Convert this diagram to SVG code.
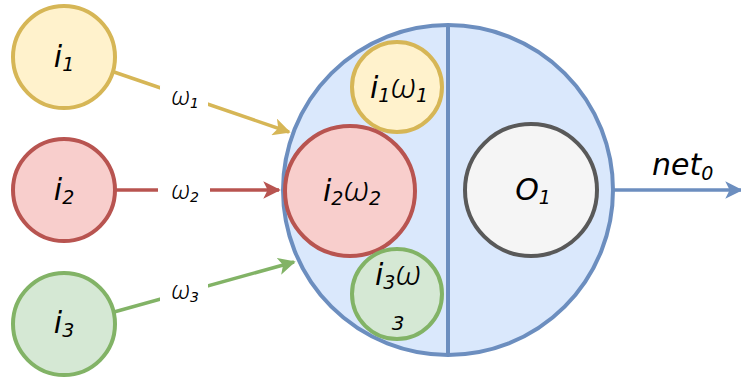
<svg xmlns="http://www.w3.org/2000/svg" width="741" height="378" viewBox="0 0 741 378">
<defs>
<style>
text{font-family:"DejaVu Sans","Liberation Sans",sans-serif;font-style:italic;fill:#000;}
.big{font-size:30px;}
.sm{font-size:25px;}
.om{font-family:"Noto Sans","DejaVu Sans",sans-serif;font-weight:300;}
.node{stroke-width:4;}
.y{fill:#fff2cc;stroke:#d6b656;}
.r{fill:#f8cecc;stroke:#b85450;}
.g{fill:#d5e8d4;stroke:#82b366;}
.b{fill:#dae8fc;stroke:#6c8ebf;}
.gr{fill:#f5f5f5;stroke:#595959;}
.edge{fill:none;stroke-width:3.5;}
</style>
<marker id="ay" viewBox="0 0 10 10" refX="9" refY="5" markerWidth="5" markerHeight="5" orient="auto" markerUnits="strokeWidth"><path d="M0,0 L10,5 L0,10 L2.5,5 Z" fill="#d6b656"/></marker>
<marker id="ar" viewBox="0 0 10 10" refX="9" refY="5" markerWidth="5" markerHeight="5" orient="auto" markerUnits="strokeWidth"><path d="M0,0 L10,5 L0,10 L2.5,5 Z" fill="#b85450"/></marker>
<marker id="ag" viewBox="0 0 10 10" refX="9" refY="5" markerWidth="5" markerHeight="5" orient="auto" markerUnits="strokeWidth"><path d="M0,0 L10,5 L0,10 L2.5,5 Z" fill="#82b366"/></marker>
<marker id="ab" viewBox="0 0 10 10" refX="9" refY="5" markerWidth="5" markerHeight="5" orient="auto" markerUnits="strokeWidth"><path d="M0,0 L10,5 L0,10 L2.5,5 Z" fill="#6c8ebf"/></marker>
</defs>
<rect width="741" height="378" fill="#fff"/>

<g id="connectors">
<line class="edge" x1="114" y1="72" x2="289" y2="132" stroke="#d6b656" marker-end="url(#ay)"/>
<line class="edge" x1="115" y1="190" x2="279" y2="190" stroke="#b85450" marker-end="url(#ar)"/>
<line class="edge" x1="114" y1="312" x2="294" y2="262" stroke="#82b366" marker-end="url(#ag)"/>
<line class="edge" x1="614" y1="190" x2="741" y2="190" stroke="#6c8ebf" marker-end="url(#ab)"/>
<rect x="160" y="86" width="48" height="26" fill="#fff"/>
<text class="sm" x="185" y="105" text-anchor="middle"><tspan class="om">ω</tspan><tspan font-size="14" dy="3">1</tspan></text>
<rect x="158" y="179" width="52" height="26" fill="#fff"/>
<text class="sm" x="185" y="199" text-anchor="middle"><tspan class="om">ω</tspan><tspan font-size="14" dy="3">2</tspan></text>
<rect x="160" y="280" width="48" height="26" fill="#fff"/>
<text class="sm" x="185" y="299" text-anchor="middle"><tspan class="om">ω</tspan><tspan font-size="14" dy="3">3</tspan></text>
<text class="big" x="652" y="175">net<tspan font-size="19" dy="5">0</tspan></text>
</g>

<g id="i1"><circle class="node y" cx="64" cy="57" r="51"/><text class="big" x="64" y="67" text-anchor="middle">i<tspan font-size="19" dy="4">1</tspan></text></g>
<g id="i2"><circle class="node r" cx="64" cy="190" r="51"/><text class="big" x="64" y="200" text-anchor="middle">i<tspan font-size="19" dy="4">2</tspan></text></g>
<g id="i3"><circle class="node g" cx="64" cy="324" r="51"/><text class="big" x="64" y="333" text-anchor="middle">i<tspan font-size="19" dy="4">3</tspan></text></g>

<g id="neuron">
<circle class="b" cx="448" cy="190" r="165" stroke-width="4"/>
<line x1="448" y1="25" x2="448" y2="355" stroke="#6c8ebf" stroke-width="4"/>
</g>

<g id="i1w1"><circle class="node y" cx="397" cy="87" r="45"/><text class="big" x="399" y="98" text-anchor="middle">i<tspan font-size="19" dy="4">1</tspan><tspan class="om" dy="-4" font-size="34">ω</tspan><tspan font-size="19" dy="4">1</tspan></text></g>
<g id="i2w2"><circle class="node r" cx="350" cy="191" r="65"/><text class="big" x="352" y="201" text-anchor="middle">i<tspan font-size="19" dy="4">2</tspan><tspan class="om" dy="-4" font-size="34">ω</tspan><tspan font-size="19" dy="4">2</tspan></text></g>
<g id="i3w3"><circle class="node g" cx="397" cy="294" r="45"/><text class="big" x="398" y="285" text-anchor="middle">i<tspan font-size="19" dy="4">3</tspan><tspan class="om" dy="-4" font-size="34">ω</tspan></text><text x="398" y="330" text-anchor="middle" font-size="20">3</text></g>
<g id="o1"><circle class="node gr" cx="531" cy="190" r="66"/><text class="big" x="533" y="200" text-anchor="middle">O<tspan font-size="19" dy="4">1</tspan></text></g>
</svg>
